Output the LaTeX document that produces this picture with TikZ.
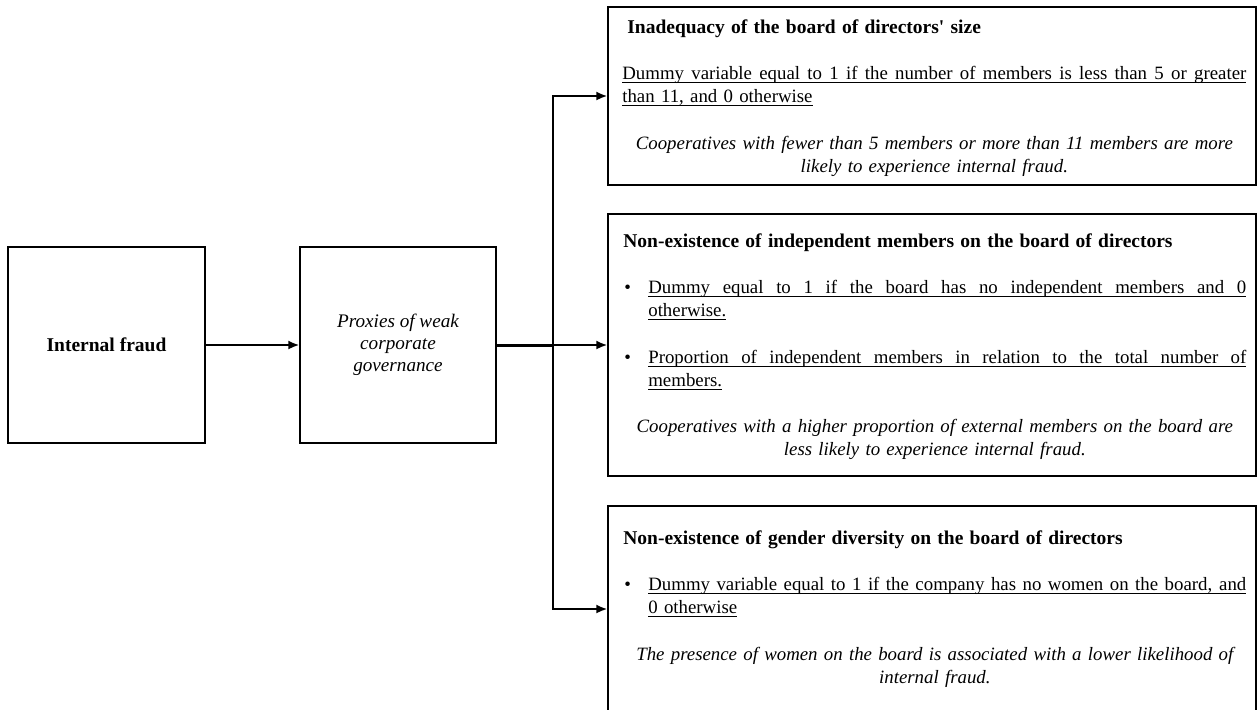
\documentclass[tikz,border=0pt]{standalone}
\usepackage{fontspec}
\setmainfont{Liberation Serif}
\usetikzlibrary{arrows.meta}

\newsavebox{\ulbox}
\newcommand{\vgap}{\par\vspace{13.9pt}}
% underlined line stretched to a given width / at natural width
\newcommand{\ulwide}[2]{\rlap{\rule[-1.9pt]{#1}{0.45pt}}{\spaceskip=\fontdimen2\font plus 1fil\relax\makebox[#1][s]{#2}}}
\newcommand{\ulnat}[1]{\sbox{\ulbox}{#1}\rlap{\rule[-1.9pt]{\wd\ulbox}{0.45pt}}\usebox{\ulbox}}
\newcommand{\bulitem}[2]{\par\noindent\makebox[15pt][l]{\hspace{0.6pt}\textbullet}\ulwide{358.8pt}{#1}\par
  \noindent\hspace*{15pt}\ulnat{#2}\par}
\newcommand{\boxtitle}[1]{\strut{\fontsize{11.7}{13.9}\selectfont\bfseries #1}}

\begin{document}
\begin{tikzpicture}[x=0.6pt, y=-0.6pt,
  panel/.style={draw, line width=0.8pt, inner sep=0pt},
  note/.style={inner sep=0pt, align=left, anchor=north west,
    font=\fontsize{11.3}{13.9}\selectfont},
  link/.style={line width=1.2pt, -{Latex[length=6.6pt,width=5.4pt]}}]
  \path[fill=white, use as bounding box] (0,0) rectangle (1258,709);

  % left chain
  \node[panel, minimum width=118.2pt, minimum height=117.6pt,
    font=\fontsize{11.7}{14}\selectfont\bfseries] (fraud) at (106.5,345) {Internal fraud};
  \node[panel, minimum width=117.6pt, minimum height=117.6pt, align=center,
    font=\fontsize{11.5}{13.2}\selectfont\itshape] (proxies) at (398,345) {Proxies of weak\\corporate\\governance};

  % right boxes
  \node[panel, minimum width=388.8pt, minimum height=106.8pt] (sizebox) at (932,96) {};
  \node[panel, minimum width=388.8pt, minimum height=157.2pt] (indepbox) at (932,345) {};
  \node[panel, minimum width=388.8pt, minimum height=123.6pt] (genderbox) at (932,609) {};

  \node[note, text width=374.4pt] (sizetext) at (622,16.8) {\hspace*{3pt}\boxtitle{Inadequacy of the board of directors\textquotesingle{} size}\vgap
    \noindent\ulwide{374.4pt}{Dummy variable equal to 1 if the number of members is less than 5 or greater}\par
    \noindent\ulnat{than 11, and 0 otherwise}\vgap
    {\centering\itshape Cooperatives with fewer than 5 members or more than 11 members are more\\ likely to experience internal fraud.\par}};

  \node[note, text width=373.8pt] (indeptext) at (623,230.8) {\boxtitle{Non-existence of independent members on the board of directors}\vgap
    \bulitem{Dummy equal to 1 if the board has no independent members and 0}{otherwise.}\vgap
    \bulitem{Proportion of independent members in relation to the total number of}{members.}\vgap
    {\centering\itshape Cooperatives with a higher proportion of external members on the board are\\ less likely to experience internal fraud.\par}};

  \node[note, text width=373.8pt] (gendertext) at (623,527.8) {\boxtitle{Non-existence of gender diversity on the board of directors}\vgap
    \bulitem{Dummy variable equal to 1 if the company has no women on the board, and}{0 otherwise}\vgap
    {\centering\itshape The presence of women on the board is associated with a lower likelihood of\\ internal fraud.\par}};

  % connectors
  \coordinate (split) at (553,345);
  \draw[link] (fraud) -- (proxies);
  \draw[line width=1.8pt] (proxies.east) -- (split);
  \draw[link] (split) -- (indepbox.west);
  \draw[link] (split) |- (sizebox.west);
  \draw[link] (split) |- (genderbox.west);
\end{tikzpicture}
\end{document}
